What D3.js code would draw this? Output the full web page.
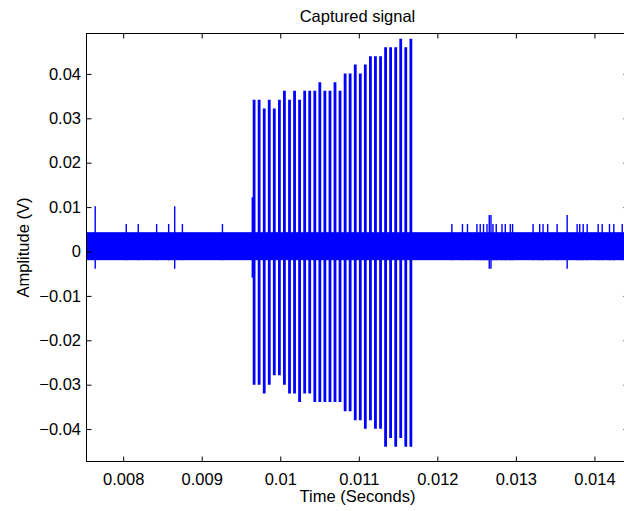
<!DOCTYPE html>
<html>
<head>
<meta charset="utf-8">
<script src="https://cdn.jsdelivr.net/npm/d3@7"></script>
<style>
  html, body { margin: 0; padding: 0; background: #fff; }
  svg { display: block; }
  text { font-family: "Liberation Sans", Arial, Helvetica, sans-serif; fill: #000; }
</style>
</head>
<body>
<svg id="chart" width="624" height="511"></svg>
<script>
// Axis limits (seconds, volts)
const xLimits = [0.007533, 0.014434];
const yLimits = [-0.0473, 0.0491];

// Tick values and their printed labels
const xTicks = [0.008, 0.009, 0.010, 0.011, 0.012, 0.013, 0.014];
const xTickLabels = ["0.008", "0.009", "0.01", "0.011", "0.012", "0.013", "0.014"];
const yTicks = [-0.04, -0.03, -0.02, -0.01, 0, 0.01, 0.02, 0.03, 0.04];
const yTickLabels = ["\u22120.04", "\u22120.03", "\u22120.02", "\u22120.01", "0", "0.01", "0.02", "0.03", "0.04"];

// Background noise: time span and the low/high envelope of the fast oscillation
const noiseSpan = [0.007533, 0.01445];
const noiseLevels = [-0.00196, 0.00435];

// Isolated glitches riding on the noise: time, peak, trough
const spikeTimes = [0.007644, 0.008039, 0.008192, 0.008426, 0.008579, 0.008656, 0.008754, 0.009264, 0.009644,
  0.012185, 0.012320, 0.012384, 0.012504, 0.012546, 0.012588, 0.012632, 0.012661, 0.012683, 0.012708,
  0.012750, 0.012823, 0.012865, 0.012929, 0.012958, 0.013219, 0.013303, 0.013346, 0.013405, 0.013525,
  0.013653, 0.013780, 0.013813, 0.013857, 0.013908, 0.014048, 0.014099, 0.014192, 0.014247, 0.014354];
const spikeHighs = [0.0102, 0.0062, 0.0062, 0.0062, 0.0062, 0.0102, 0.0062, 0.0062, 0.0122,
  0.0062, 0.0062, 0.0062, 0.0062, 0.0062, 0.0062, 0.0062, 0.0082, 0.0082, 0.0062,
  0.0062, 0.0062, 0.0062, 0.0062, 0.0062, 0.0062, 0.0062, 0.0062, 0.0062, 0.0062,
  0.0082, 0.0062, 0.0062, 0.0062, 0.0062, 0.0062, 0.0062, 0.0062, 0.0062, 0.0062];
const spikeLows = [-0.0039, -0.00196, -0.00196, -0.00196, -0.00196, -0.0039, -0.00196, -0.00196, -0.0059,
  -0.00196, -0.00196, -0.00196, -0.00196, -0.00196, -0.00196, -0.00196, -0.0039, -0.0039, -0.00196,
  -0.00196, -0.00196, -0.00196, -0.00196, -0.00196, -0.00196, -0.00196, -0.00196, -0.00196, -0.00196,
  -0.0039, -0.00196, -0.00196, -0.00196, -0.00196, -0.00196, -0.00196, -0.00196, -0.00196, -0.00196];

// Burst of pulses: time, positive peak, negative peak
const pulseTimes = [0.009667, 0.009731, 0.009796, 0.009860, 0.009924, 0.009989, 0.010053, 0.010118,
  0.010182, 0.010246, 0.010311, 0.010375, 0.010440, 0.010504, 0.010568, 0.010633,
  0.010697, 0.010761, 0.010826, 0.010890, 0.010955, 0.011019, 0.011083, 0.011148,
  0.011212, 0.011277, 0.011341, 0.011405, 0.011470, 0.011534, 0.011598, 0.011663];
const pulsePeaks = [0.0342, 0.0342, 0.0322, 0.0342, 0.0322, 0.0342, 0.0362, 0.0342,
  0.0362, 0.0342, 0.0362, 0.0362, 0.0362, 0.0381, 0.0362, 0.0362,
  0.0381, 0.0362, 0.0401, 0.0401, 0.0421, 0.0401, 0.0421, 0.0440,
  0.0440, 0.0440, 0.0460, 0.0460, 0.0460, 0.0479, 0.0460, 0.0479];
const pulseTroughs = [-0.0300, -0.0300, -0.0320, -0.0300, -0.0279, -0.0279, -0.0300, -0.0320,
  -0.0320, -0.0339, -0.0320, -0.0320, -0.0339, -0.0339, -0.0339, -0.0339,
  -0.0339, -0.0339, -0.0360, -0.0360, -0.0380, -0.0380, -0.0399, -0.0380,
  -0.0399, -0.0399, -0.0440, -0.0420, -0.0440, -0.0420, -0.0440, -0.0440];

const svg = d3.select("#chart");
const plotLeft = 86.5, plotRight = 628.5, plotTop = 33.5, plotBottom = 461.5;
const fontSize = 16.5;
const blue = "#0000ff";

const x = d3.scaleLinear().domain(xLimits).range([plotLeft, plotRight]);
const y = d3.scaleLinear().domain(yLimits).range([plotBottom, plotTop]);

svg.append("defs").append("clipPath").attr("id", "plotClip")
  .append("rect")
  .attr("x", plotLeft).attr("y", plotTop)
  .attr("width", plotRight - plotLeft).attr("height", plotBottom - plotTop);

const plot = svg.append("g").attr("clip-path", "url(#plotClip)");

// dense noise envelope
plot.append("rect")
  .attr("x", x(noiseSpan[0]))
  .attr("width", x(noiseSpan[1]) - x(noiseSpan[0]))
  .attr("y", y(noiseLevels[1]))
  .attr("height", y(noiseLevels[0]) - y(noiseLevels[1]))
  .attr("fill", blue);

// glitches
const spikes = spikeTimes.map((t, i) => ({ t, hi: spikeHighs[i], lo: spikeLows[i] }));
plot.append("g").selectAll("line").data(spikes).join("line")
  .attr("x1", d => x(d.t)).attr("x2", d => x(d.t))
  .attr("y1", d => y(d.hi)).attr("y2", d => y(d.lo))
  .attr("stroke", blue).attr("stroke-width", 1.4);

// pulse burst
const pulses = pulseTimes.map((t, i) => ({ t, hi: pulsePeaks[i], lo: pulseTroughs[i] }));
plot.append("g").selectAll("line").data(pulses).join("line")
  .attr("x1", d => x(d.t)).attr("x2", d => x(d.t))
  .attr("y1", d => y(d.hi)).attr("y2", d => y(d.lo))
  .attr("stroke", blue).attr("stroke-width", 2.8);

// axes: ticks point inward on all four sides
function styleAxis(g) {
  g.select(".domain").remove();
  g.selectAll(".tick line").attr("stroke", "#000").attr("stroke-width", 1);
  g.selectAll(".tick text").attr("font-size", fontSize).attr("fill", "#000");
}
const tickLen = 5;

svg.append("g").attr("transform", `translate(0,${plotBottom})`)
  .call(d3.axisBottom(x).tickValues(xTicks).tickSizeInner(-tickLen).tickSizeOuter(0)
    .tickPadding(0).tickFormat((d, i) => xTickLabels[i]))
  .call(styleAxis)
  .call(g => g.selectAll(".tick text").attr("dy", null).attr("y", 23));

svg.append("g").attr("transform", `translate(0,${plotTop})`)
  .call(d3.axisTop(x).tickValues(xTicks).tickSizeInner(-tickLen).tickSizeOuter(0).tickFormat(""))
  .call(styleAxis);

svg.append("g").attr("transform", `translate(${plotLeft},0)`)
  .call(d3.axisLeft(y).tickValues(yTicks).tickSizeInner(-tickLen).tickSizeOuter(0)
    .tickPadding(5.5).tickFormat((d, i) => yTickLabels[i]))
  .call(styleAxis);

svg.append("g").attr("transform", `translate(${plotRight},0)`)
  .call(d3.axisRight(y).tickValues(yTicks).tickSizeInner(-tickLen).tickSizeOuter(0).tickFormat(""))
  .call(styleAxis);

// box
svg.append("rect")
  .attr("x", plotLeft).attr("y", plotTop)
  .attr("width", plotRight - plotLeft).attr("height", plotBottom - plotTop)
  .attr("fill", "none").attr("stroke", "#000").attr("stroke-width", 1);

// titles
const midX = (plotLeft + plotRight) / 2;
svg.append("text").attr("x", midX).attr("y", 21.5)
  .attr("text-anchor", "middle").attr("font-size", fontSize).text("Captured signal");
svg.append("text").attr("x", midX).attr("y", 501.5)
  .attr("text-anchor", "middle").attr("font-size", fontSize).text("Time (Seconds)");
svg.append("text")
  .attr("transform", `translate(29,${(plotTop + plotBottom) / 2}) rotate(-90)`)
  .attr("text-anchor", "middle").attr("font-size", fontSize).text("Amplitude (V)");
</script>
</body>
</html>
